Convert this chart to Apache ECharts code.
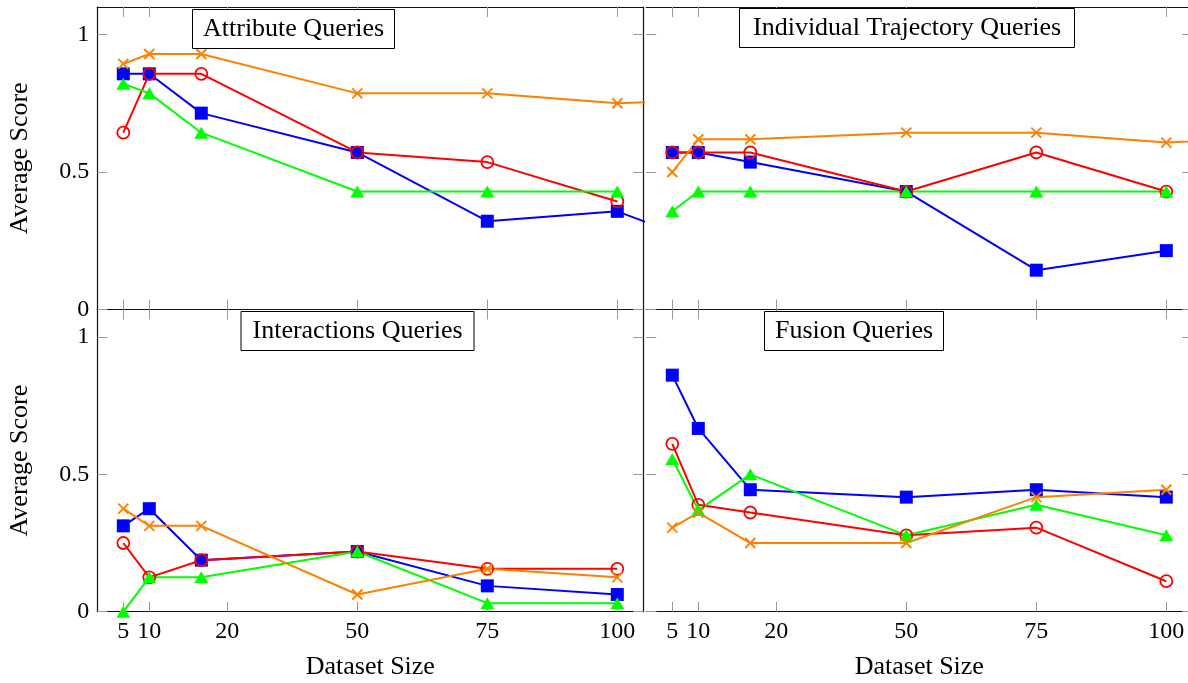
<!DOCTYPE html>
<html>
<head>
<meta charset="utf-8">
<script src="https://cdn.jsdelivr.net/npm/echarts@6/dist/echarts.min.js"></script>
<style>html,body{margin:0;padding:0;background:#fff}#c{width:1188px;height:683px}</style>
</head>
<body>
<div id="c"></div>
<script>
// ---- data ----
const sizes = [5, 10, 20, 50, 75, 100];
const tickValues = [5, 10, 25, 50, 75, 100];
const tickLabels = ['5', '10', '20', '50', '75', '100'];
const yTickValues = [0, 0.5, 1];
const panelTitles = ['Attribute Queries', 'Individual Trajectory Queries', 'Interactions Queries', 'Fusion Queries'];

// Attribute Queries
const attrBlue   = [0.857, 0.857, 0.714, 0.571, 0.321, 0.357];
const attrRed    = [0.643, 0.857, 0.857, 0.571, 0.536, 0.393];
const attrGreen  = [0.821, 0.786, 0.643, 0.429, 0.429, 0.429];
const attrOrange = [0.893, 0.929, 0.929, 0.786, 0.786, 0.750];
// Individual Trajectory Queries
const trajBlue   = [0.571, 0.571, 0.536, 0.429, 0.143, 0.214];
const trajRed    = [0.571, 0.571, 0.571, 0.429, 0.571, 0.429];
const trajGreen  = [0.357, 0.429, 0.429, 0.429, 0.429, 0.429];
const trajOrange = [0.500, 0.619, 0.619, 0.643, 0.643, 0.607];
// Interactions Queries
const interBlue   = [0.3125, 0.375, 0.1875, 0.219, 0.094, 0.0625];
const interRed    = [0.25, 0.125, 0.1875, 0.219, 0.156, 0.156];
const interGreen  = [0, 0.125, 0.125, 0.219, 0.031, 0.031];
const interOrange = [0.375, 0.3125, 0.3125, 0.0625, 0.156, 0.125];
// Fusion Queries
const fusBlue   = [0.861, 0.667, 0.444, 0.417, 0.444, 0.417];
const fusRed    = [0.611, 0.389, 0.361, 0.278, 0.306, 0.111];
const fusGreen  = [0.556, 0.370, 0.500, 0.278, 0.389, 0.278];
const fusOrange = [0.306, 0.361, 0.250, 0.250, 0.417, 0.444];

// continuation beyond the visible x range (clipped at the panel edge)
const beyondSize = 125;
const attrBlueBeyond = 0.18;
const attrOrangeBeyond = 0.765;
const trajOrangeBeyond = 0.63;

// ---- styling / layout ----
const FONT = 'Liberation Serif';
const BLUE = '#0000ff', RED = '#ff0000', GREEN = '#00ff00', ORANGE = '#ff8000';
const TICKC = '#9a9a9a';
const grids = [
  {left: 97.3, top: 7, width: 546, height: 302.5},
  {left: 646.3, top: 7, width: 546, height: 302.5},
  {left: 97.3, top: 309.5, width: 546, height: 302.2},
  {left: 646.3, top: 309.5, width: 546, height: 302.2}
];
const titlePos = [
  {left: 192, top: 9, padH: 11},
  {left: 739, top: 8, padH: 14},
  {left: 240.5, top: 311, padH: 12},
  {left: 764, top: 311, padH: 11}
];

function xAx(g, pos) {
  const bottomRow = g >= 2;
  return {
    type: 'value', gridIndex: g, position: pos, min: 0, max: 105,
    axisLine: {show: true, onZero: false, lineStyle: {color: '#111', width: 1.2}},
    axisTick: {show: true, inside: true, length: 10, customValues: tickValues, lineStyle: {color: TICKC, width: 1}},
    axisLabel: {show: pos === 'bottom' && bottomRow, customValues: tickValues, margin: 8,
      fontFamily: FONT, fontSize: 24, color: '#000',
      formatter: v => { const i = tickValues.indexOf(v); return i >= 0 ? tickLabels[i] : ''; }},
    splitLine: {show: false},
    name: (pos === 'bottom' && bottomRow) ? 'Dataset Size' : '',
    nameLocation: 'middle', nameGap: 42,
    nameTextStyle: {fontFamily: FONT, fontSize: 26, color: '#000'}
  };
}
function yAx(g, pos) {
  const leftCol = g % 2 === 0;
  return {
    type: 'value', gridIndex: g, position: pos, min: 0, max: 1.1,
    axisLine: {show: !(pos === 'left' && !leftCol), onZero: false, lineStyle: {color: '#111', width: 1.2}},
    axisTick: {show: true, inside: true, length: 10, customValues: yTickValues, lineStyle: {color: TICKC, width: 1}},
    axisLabel: {show: pos === 'left' && leftCol, customValues: yTickValues, margin: 8,
      fontFamily: FONT, fontSize: 24, color: '#000'},
    splitLine: {show: false},
    name: (pos === 'left' && leftCol) ? 'Average Score' : '',
    nameLocation: 'middle', nameGap: 64,
    nameTextStyle: {fontFamily: FONT, fontSize: 26, color: '#000'}
  };
}

const styles = {
  blue:   {color: BLUE, symbol: 'rect', symbolSize: 13, itemStyle: {color: BLUE}},
  red:    {color: RED, symbol: 'circle', symbolSize: 12, itemStyle: {color: 'rgba(0,0,0,0)', borderColor: RED, borderWidth: 1.8}},
  green:  {color: GREEN, symbol: 'triangle', symbolSize: [14, 12], itemStyle: {color: GREEN}},
  orange: {color: ORANGE, symbol: 'path://M0,0L10,10M10,0L0,10', symbolSize: 10, itemStyle: {color: 'rgba(0,0,0,0)', borderColor: ORANGE, borderWidth: 1.9}}
};

function mk(g, key, vals, beyond) {
  const st = styles[key];
  const data = sizes.map((s, i) => [s, vals[i]]);
  if (beyond !== undefined) data.push([beyondSize, beyond]);
  return {
    type: 'line', xAxisIndex: 2 * g, yAxisIndex: 2 * g, data: data,
    symbol: st.symbol, symbolSize: st.symbolSize, showSymbol: true, showAllSymbol: true,
    clip: true, z: 2,
    lineStyle: {color: st.color, width: 2},
    itemStyle: st.itemStyle,
    emphasis: {disabled: true}, silent: true
  };
}

const series = [
  mk(0, 'blue', attrBlue, attrBlueBeyond), mk(0, 'red', attrRed), mk(0, 'green', attrGreen), mk(0, 'orange', attrOrange, attrOrangeBeyond),
  mk(1, 'blue', trajBlue), mk(1, 'red', trajRed), mk(1, 'green', trajGreen), mk(1, 'orange', trajOrange, trajOrangeBeyond),
  mk(2, 'blue', interBlue), mk(2, 'red', interRed), mk(2, 'green', interGreen), mk(2, 'orange', interOrange),
  mk(3, 'blue', fusBlue), mk(3, 'red', fusRed), mk(3, 'green', fusGreen), mk(3, 'orange', fusOrange)
];

const xAxes = [], yAxes = [];
for (let g = 0; g < 4; g++) {
  xAxes.push(xAx(g, 'bottom'), xAx(g, 'top'));
  yAxes.push(yAx(g, 'left'), yAx(g, 'right'));
}

const titles = panelTitles.map((t, i) => ({
  text: t, left: titlePos[i].left, top: titlePos[i].top,
  padding: [6, titlePos[i].padH], borderColor: '#000', borderWidth: 1, backgroundColor: '#fff',
  textStyle: {fontFamily: FONT, fontSize: 26, fontWeight: 'normal', color: '#000', lineHeight: 28},
  z: 10
}));

const chart = echarts.init(document.getElementById('c'), null, {renderer: 'canvas'});
chart.setOption({
  animation: false,
  backgroundColor: '#fff',
  title: titles,
  grid: grids.map(g => Object.assign({outerBoundsMode: 'none', containLabel: false}, g)),
  xAxis: xAxes,
  yAxis: yAxes,
  series: series
});
</script>
</body>
</html>
